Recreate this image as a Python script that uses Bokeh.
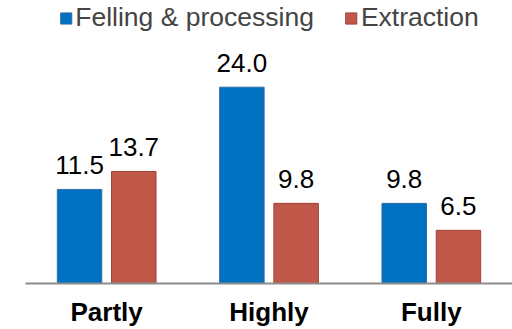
from bokeh.plotting import figure
from bokeh.models import ColumnDataSource, Range1d, FactorRange, Legend, LegendItem, LabelSet
from bokeh.transform import dodge
from bokeh.core.properties import value
from bokeh.embed import file_html
from bokeh.resources import INLINE

categories = ["Partly", "Highly", "Fully"]
felling = [11.5, 24.0, 9.8]
extraction = [13.7, 9.8, 6.5]
series_names = ["Felling & processing", "Extraction"]

FONT = "Liberation Sans"
BLUE = "#0070C0"
RED = "#C0584A"

src = ColumnDataSource(dict(
    cat=categories,
    felling=felling,
    extraction=extraction,
    flab=[f"{v:.1f}" for v in felling],
    elab=[f"{v:.1f}" for v in extraction],
))

p = figure(width=512, height=329, output_backend="svg", toolbar_location=None,
           x_range=FactorRange(*categories, range_padding=0),
           y_range=Range1d(0, 34.6),
           min_border_left=25, min_border_right=0, min_border_top=0, min_border_bottom=46)
p.outline_line_color = None
p.grid.visible = False
p.yaxis.visible = False
p.background_fill_color = "white"
p.border_fill_color = "white"

r1 = p.vbar(x=dodge("cat", -0.167, range=p.x_range), top="felling", width=0.274, source=src,
            fill_color=BLUE, line_color="#2F6EA8", line_width=1)
r2 = p.vbar(x=dodge("cat", 0.167, range=p.x_range), top="extraction", width=0.274, source=src,
            fill_color=RED, line_color="#A0403A", line_width=1)

for col, lab, off in (("felling", "flab", -0.167), ("extraction", "elab", 0.167)):
    ls = LabelSet(x=dodge("cat", off, range=p.x_range), y=col, text=lab, source=src,
                  text_align="center", text_baseline="bottom", y_offset=15,
                  text_font=value(FONT), text_font_size=value("26px"), text_color="#000000")
    p.add_layout(ls)

xa = p.xaxis[0]
xa.axis_line_color = "#8C8C8C"
xa.axis_line_width = 2
xa.major_tick_line_color = None
xa.minor_tick_line_color = None
xa.major_label_text_font = FONT
xa.major_label_text_font_size = "26px"
xa.major_label_text_font_style = "bold"
xa.major_label_text_color = "#000000"
xa.major_label_standoff = 7

legend = Legend(items=[LegendItem(label=series_names[0], renderers=[r1]),
                       LegendItem(label=series_names[1], renderers=[r2])],
                orientation="horizontal", location="top_center",
                label_text_font=FONT, label_text_font_size="26.5px",
                glyph_width=14, glyph_height=14, spacing=30, padding=0, margin=2,
                label_standoff=3, border_line_color=None, background_fill_alpha=0)
p.add_layout(legend)

open("out.html", "w").write(file_html(p, INLINE))
